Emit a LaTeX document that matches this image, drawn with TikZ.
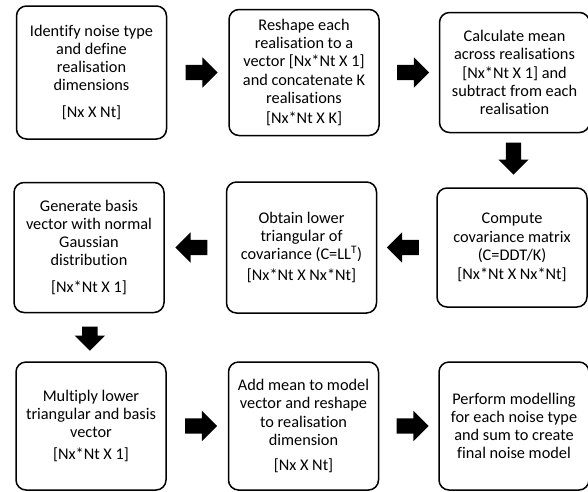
\documentclass[tikz,border=0pt]{standalone}
\usepackage{fontspec}
\setmainfont{Carlito}[Ligatures=NoCommon]
\usetikzlibrary{positioning,calc,shapes.arrows}
\tikzset{
% Two styles for the flow chart: rounded boxes and black block arrows
process box/.style={rectangle,draw,rounded corners=10pt,line width=1.5pt,align=center,inner sep=2pt,minimum width=150pt,minimum height=128pt,font=\fontsize{16.3pt}{18.2pt}\selectfont},
block arrow/.style={single arrow,fill=black,inner xsep=0pt,inner ysep=7.5pt,minimum height=32pt,single arrow head extend=7.5pt}
}

\begin{document}
\begin{tikzpicture}[x=1pt,y=-1pt]
\useasboundingbox (0,0) rectangle (588,491);
% first row, left to right
\node[process box, minimum height=133pt] (identify) at (91.5,72.5)
    {Identify noise type\\and define\\realisation\\dimensions\\[9pt][Nx X Nt]};
\node[process box, minimum height=126pt, right=61pt of identify] (reshape)
    {Reshape each\\realisation to a\\vector [Nx*Nt X 1]\\and concatenate K\\realisations\\[2pt][Nx*Nt X K]};
\node[process box, minimum height=120pt, right=59pt of reshape] (mean)
    {Calculate mean\\across realisations\\{}[Nx*Nt X 1] and\\subtract from each\\realisation};
% second row, right to left
\node[process box, minimum height=119pt] (covar) at (512,247.5)
    {Compute\\covariance matrix\\(C=DDT/K)\\[1pt][Nx*Nt X Nx*Nt]};
\node[process box, minimum height=131pt, left=59pt of covar] (lower)
    {Obtain lower\\triangular of\\covariance (C=LL\textsuperscript{T})\\[3pt][Nx*Nt X Nx*Nt]};
\node[process box, minimum height=130pt, left=61pt of lower] (basis)
    {Generate basis\\vector with normal\\Gaussian\\distribution\\[9pt][Nx*Nt X 1]};
% third row, left to right
\node[process box] (multiply) at (91,426)
    {Multiply lower\\triangular and basis\\vector\\[4pt][Nx*Nt X 1]};
\node[process box, right=61pt of multiply] (addmean)
    {Add mean to model\\vector and reshape\\to realisation\\dimension\\[7pt][Nx X Nt]};
\node[process box, right=59pt of addmean] (final)
    {Perform modelling\\for each noise type\\and sum to create\\final noise model};
% block arrows between the boxes
\node[block arrow] (a1) at ($(identify.east)!0.5!(reshape.west)$) {};
\node[block arrow] (a2) at ($(reshape.east)!0.5!(mean.west)$) {};
\node[block arrow, rotate=-90] (a3) at ($(mean.south)!0.4!(covar.north)$) {};
\node[block arrow, rotate=180] (a4) at ($(covar.west)!0.5!(lower.east)$) {};
\node[block arrow, rotate=180] (a5) at ($(lower.west)!0.5!(basis.east)$) {};
\node[block arrow, rotate=-90, minimum height=24pt] (a6) at ($(basis.south)!0.45!(multiply.north)$) {};
\node[block arrow] (a7) at ($(multiply.east)!0.5!(addmean.west)$) {};
\node[block arrow] (a8) at ($(addmean.east)!0.5!(final.west)$) {};
\end{tikzpicture}
\end{document}
